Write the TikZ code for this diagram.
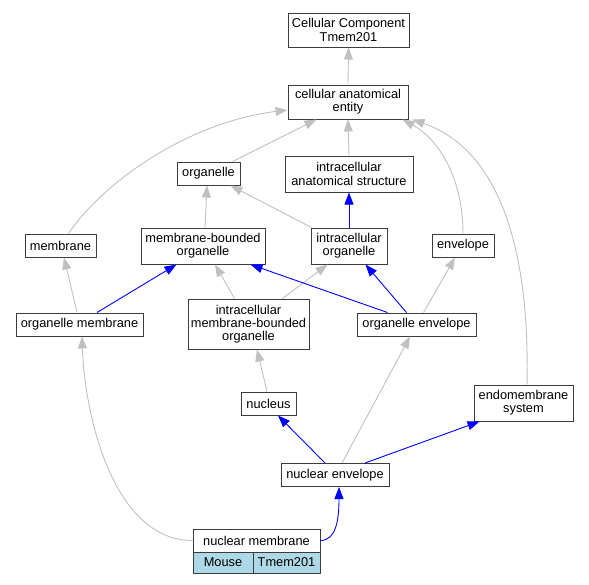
\documentclass[tikz,border=0pt]{standalone}
\usepackage{fontspec}
\setmainfont{Liberation Sans}
\usetikzlibrary{arrows.meta}
\definecolor{boxc}{RGB}{60,60,60}
\definecolor{edgegray}{RGB}{192,192,192}
\definecolor{edgeblue}{RGB}{0,0,255}
\definecolor{cellblue}{RGB}{173,216,230}
\tikzset{
  gbox/.style={draw=boxc, line width=1pt, fill=white, inner sep=0pt, align=center,
    font=\fontsize{12.8pt}{13.3pt}\selectfont},
  isa/.style={draw=edgegray, line width=0.9pt, -{Triangle[length=12pt,width=9pt,fill=edgegray]}},
  partof/.style={draw=edgeblue, line width=0.9pt, -{Triangle[length=12pt,width=9pt,fill=edgeblue]}}
}
\begin{document}
\begin{tikzpicture}[x=1pt,y=-1pt]
\useasboundingbox (0,0) rectangle (589,584);
% nodes
\node[gbox, minimum width=121pt, minimum height=34pt] (cct) at (348.5,30) {Cellular Component\\Tmem201};
\node[gbox, minimum width=120pt, minimum height=34pt] (cae) at (348,102) {cellular anatomical\\entity};
\node[gbox, minimum width=63pt, minimum height=23pt] (org) at (208.5,173.5) {organelle};
\node[gbox, minimum width=128pt, minimum height=36pt] (ias) at (349,174) {intracellular\\anatomical structure};
\node[gbox, minimum width=71pt, minimum height=23pt] (mem) at (60.5,245.5) {membrane};
\node[gbox, minimum width=124pt, minimum height=36pt] (mbo) at (203,246) {membrane-bounded\\organelle};
\node[gbox, minimum width=76pt, minimum height=36pt] (io) at (349,246) {intracellular\\organelle};
\node[gbox, minimum width=62pt, minimum height=23pt] (env) at (463,245.5) {envelope};
\node[gbox, minimum width=127pt, minimum height=23pt] (om) at (79.5,324.5) {organelle membrane};
\node[gbox, minimum width=121pt, minimum height=50pt] (imbo) at (248.5,324) {intracellular\\membrane-bounded\\organelle};
\node[gbox, minimum width=119pt, minimum height=23pt] (oe) at (416.5,324.5) {organelle envelope};
\node[gbox, minimum width=55pt, minimum height=23pt] (nuc) at (268.5,403.5) {nucleus};
\node[gbox, minimum width=99pt, minimum height=36pt] (endo) at (523.5,403) {endomembrane\\system};
\node[gbox, minimum width=108pt, minimum height=23pt] (ne) at (335,475) {nuclear envelope};
\node[gbox, minimum width=127pt, minimum height=23pt] (nm) at (256.5,540.5) {nuclear membrane};
\node[gbox, fill=cellblue, minimum width=60pt, minimum height=21pt] (mouse) at (223,562.5) {Mouse};
\node[gbox, fill=cellblue, minimum width=67pt, minimum height=21pt] (tmem) at (286.5,562.5) {Tmem201};
% edges
\draw[isa] (cae.north) -- (cct.south);
\draw[isa] ([xshift=-8pt]org.north east) -- ([xshift=29pt]cae.south west);
\draw[isa] (ias.north) -- (cae.south);
\draw[isa] ([xshift=8pt]mem.north) .. controls (105,180) and (190,122) .. ([yshift=-8pt]cae.west);
\draw[isa] (env.north) .. controls (463,180) and (440,140) .. ([xshift=-6pt]cae.south east);
\draw[isa] ([xshift=3.5pt]endo.north) .. controls (530,250) and (500,150) .. ([xshift=4pt]cae.south east);
\draw[isa] ([xshift=2pt]mbo.north) -- ([xshift=-1.5pt]org.south);
\draw[isa] ([xshift=1pt]io.north west) -- ([xshift=-10pt]org.south east);
\draw[partof] (io.north) -- (ias.south);
\draw[isa] ([xshift=-2.5pt]om.north) -- ([xshift=3.5pt]mem.south);
\draw[partof] ([xshift=17.5pt]om.north) -- ([xshift=36pt]mbo.south west);
\draw[isa] ([xshift=47pt]imbo.north west) -- ([xshift=12pt]mbo.south);
\draw[isa] ([xshift=95pt]imbo.north west) -- ([xshift=17pt]io.south west);
\draw[partof] ([xshift=31pt]oe.north west) -- ([xshift=-15pt]mbo.south east);
\draw[partof] ([xshift=50pt]oe.north west) -- ([xshift=-22pt]io.south east);
\draw[isa] ([xshift=67pt]oe.north west) -- ([xshift=-8pt]env.south);
\draw[isa] ([xshift=-1.5pt]nuc.north) -- ([xshift=8.5pt]imbo.south);
\draw[isa] ([xshift=7pt]ne.north) -- ([xshift=-6.5pt]oe.south);
\draw[partof] ([xshift=-10pt]ne.north) -- ([xshift=9.5pt]nuc.south);
\draw[partof] ([xshift=30pt]ne.north) -- ([xshift=6pt]endo.south west);
\draw[partof] (nm.east) .. controls (336,540.5) and (339,520) .. ([xshift=4pt]ne.south);
\draw[isa] (nm.west) .. controls (115,540.5) and (85,420) .. ([xshift=2.5pt]om.south);
\end{tikzpicture}
\end{document}
